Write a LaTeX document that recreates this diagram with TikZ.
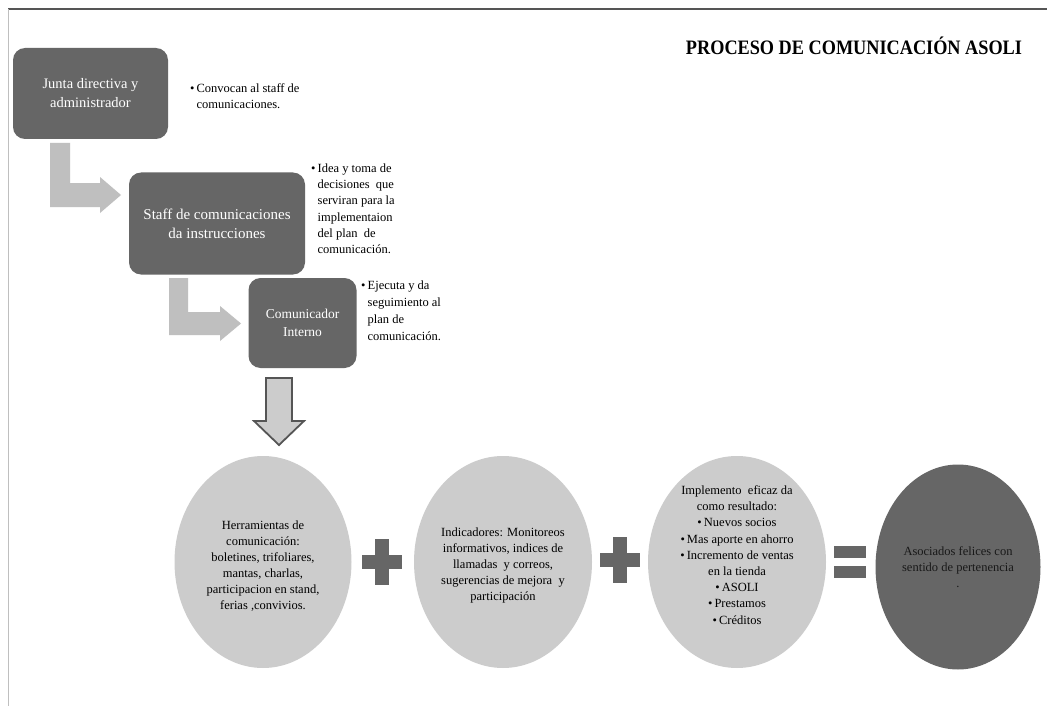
\documentclass[tikz,border=0pt]{standalone}
\usepackage{fontspec}
\setmainfont{Liberation Serif}
\usetikzlibrary{shapes.geometric}
\definecolor{dk}{HTML}{666666}
\definecolor{lt}{HTML}{BFBFBF}
\definecolor{cl}{HTML}{CCCCCC}
\definecolor{ln}{HTML}{555555}
\begin{document}
\begin{tikzpicture}[x=1pt,y=-1pt,
  boxnode/.style={rounded corners=12pt, fill=dk, text=white, align=center, inner sep=0pt},
  bul/.style={anchor=north west, inner sep=0pt, font=\fontsize{12.5}{16}\selectfont, text=black},
  oval/.style={ellipse, fill=cl, inner sep=0pt},
  ovaltext/.style={align=center, inner sep=0pt, font=\fontsize{12.5}{16}\selectfont},
  bent/.style={fill=lt, draw=none},
  sign/.style={fill=dk, draw=none}]
\useasboundingbox (0,0) rectangle (1047,706);
\fill[white] (0,0) rectangle (1047,706);
\draw[line width=1.3pt, color=ln] (8,9) -- (1047,9);
\draw[line width=1pt, color=lt] (8,9) -- (8,706);
% title
\node[font=\bfseries\fontsize{20.5}{22}\selectfont] (title) at (854,46) {\scalebox{0.89}[1]{PROCESO DE COMUNICACIÓN ASOLI}};
% boxes
\node[boxnode, minimum width=155pt, minimum height=91pt, font=\fontsize{14.5}{19}\selectfont] (b1) at (90.5,93.5) {Junta directiva y\\administrador};
\node[boxnode, minimum width=176pt, minimum height=102pt, font=\fontsize{15}{19}\selectfont] (b2) at (217,223.5) {Staff de comunicaciones\\da instrucciones};
\node[boxnode, minimum width=108pt, minimum height=90pt, font=\fontsize{13.5}{18}\selectfont] (b3) at (302.5,323) {Comunicador\\Interno};
% bullet texts
\node[bul] (t1) at (190,81) {\begin{tabular}{@{}l@{}l@{}}\textbullet\,&Convocan al staff de\\&comunicaciones.\end{tabular}};
\node[bul, font=\fontsize{12.5}{16.2}\selectfont] (t2) at (311,161) {\begin{tabular}{@{}l@{}l@{}}\textbullet\,&Idea y toma de\\&decisiones\ \ que\\&serviran para la\\&implementaion\\&del plan\ \ de\\&comunicación.\end{tabular}};
\node[bul, font=\fontsize{12.5}{17}\selectfont] (t3) at (361,277) {\begin{tabular}{@{}l@{}l@{}}\textbullet\,&Ejecuta y da\\&seguimiento al\\&plan de\\&comunicación.\end{tabular}};
% bent arrows
\fill[bent] (50,143) coordinate (a1s) -- (70,143) -- (70,183) -- (100,183) -- (100,177) -- (121,195) -- (100,213) -- (100,207) -- (50,207) -- cycle;
\fill[bent] (169,278) coordinate (a2s) -- (188,278) -- (188,312) -- (220,312) -- (220,306) -- (241,323.5) -- (220,341) -- (220,335) -- (169,335) -- cycle;
% down arrow
\draw[fill=cl, draw=ln, line width=1.8pt, line join=miter] (266,378) coordinate (d0) -- (292,378) -- (292,421) -- (304,421) -- (279,445) coordinate (dtip) -- (254,421) -- (266,421) -- cycle;
% ovals
\node[oval, minimum width=177pt, minimum height=212pt] (e1) at (263,562) {};
\node[ovaltext] (e1t) at (263,566) {Herramientas de\\comunicación:\\boletines, trifoliares,\\mantas, charlas,\\participacion en stand,\\ferias ,convivios.};
\node[oval, minimum width=178pt, minimum height=212pt] (e2) at (503,562) {};
\node[ovaltext] (e2t) at (503,565) {Indicadores: Monitoreos\\informativos, indices de\\llamadas\ \ y correos,\\sugerencias de mejora\ \ y\\participación};
\node[oval, minimum width=178pt, minimum height=212pt] (e3) at (737,562) {};
\node[ovaltext, font=\fontsize{12.5}{16.2}\selectfont] (e3t) at (737,555) {Implemento\ \ eficaz da\\como resultado:\\\textbullet\,Nuevos socios\\\textbullet\,Mas aporte en ahorro\\\textbullet\,Incremento de ventas\\en la tienda\\\textbullet\,ASOLI\\\textbullet\,Prestamos\\\textbullet\,Créditos};
\node[oval, fill=dk, minimum width=165pt, minimum height=205pt] (e4) at (958,567) {};
\node[ovaltext, text=black!90] (e4t) at (958,567) {Asociados felices con\\sentido de pertenencia\\.};
% plus signs
\coordinate (p1) at (382,562);
\coordinate (p2) at (620,560);
\foreach \p in {p1,p2}{
  \fill[sign] ([xshift=-7pt,yshift=-23pt]\p) rectangle ([xshift=7pt,yshift=23pt]\p);
  \fill[sign] ([xshift=-20pt,yshift=-7pt]\p) rectangle ([xshift=20pt,yshift=7pt]\p);
}
% equals
\coordinate (q) at (850,562);
\fill[sign] ([xshift=-16pt,yshift=-16pt]q) rectangle ([xshift=16pt,yshift=-4pt]q);
\fill[sign] ([xshift=-16pt,yshift=4pt]q) rectangle ([xshift=16pt,yshift=16pt]q);
\end{tikzpicture}
\end{document}
